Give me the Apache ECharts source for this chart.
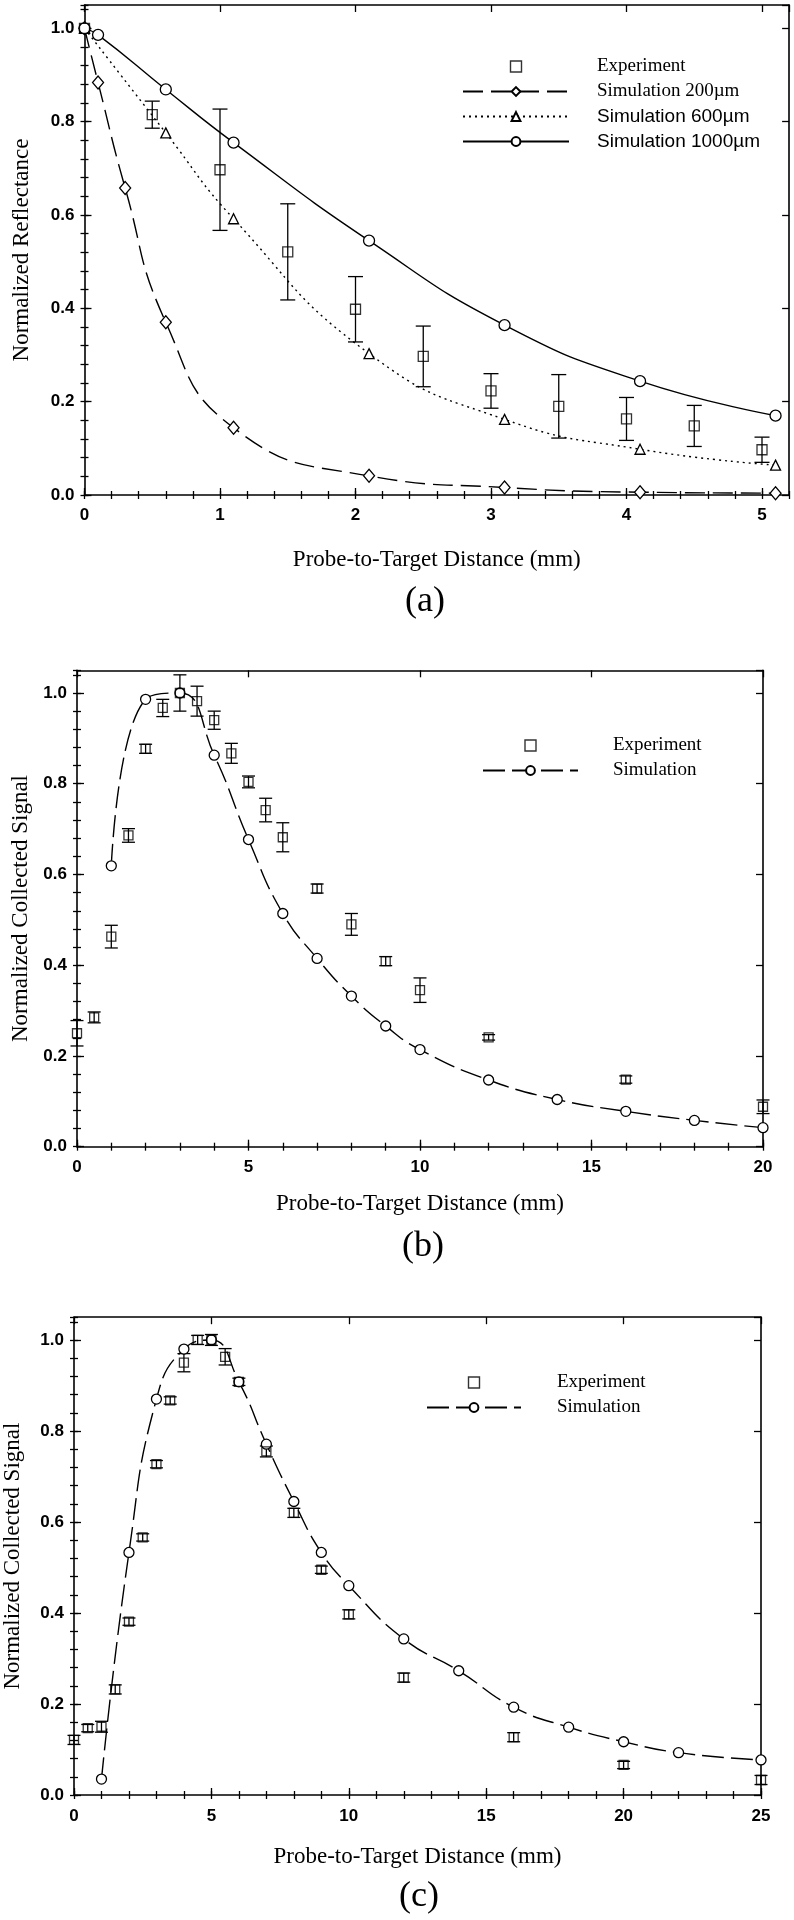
<!DOCTYPE html>
<html><head><meta charset="utf-8">
<script src="https://cdn.jsdelivr.net/npm/echarts@6/dist/echarts.min.js"></script>
<style>html,body{margin:0;padding:0;background:#fff}#c{width:794px;height:1920px}</style>
</head><body><div id="c"></div>
<script>
// ---------- Panel (a) data ----------
const aExpX = [0, 0.5, 1.0, 1.5, 2.0, 2.5, 3.0, 3.5, 4.0, 4.5, 5.0];
const aExpY = [1.0, 0.815, 0.697, 0.521, 0.398, 0.297, 0.223, 0.19, 0.163, 0.148, 0.097];
const aExpErr = [0, 0.029, 0.13, 0.103, 0.07, 0.065, 0.037, 0.068, 0.046, 0.044, 0.027];
const aSim200X = [0, 0.1, 0.3, 0.6, 1.1, 2.1, 3.1, 4.1, 5.1];
const aSim200Y = [1.0, 0.884, 0.658, 0.37, 0.144, 0.041, 0.016, 0.006, 0.004];
const aSim600X = [0, 0.6, 1.1, 2.1, 3.1, 4.1, 5.1];
const aSim600Y = [1.0, 0.776, 0.592, 0.303, 0.162, 0.098, 0.064];
const aSim1000X = [0, 0.1, 0.6, 1.1, 2.1, 3.1, 4.1, 5.1];
const aSim1000Y = [1.0, 0.986, 0.869, 0.755, 0.545, 0.364, 0.244, 0.17];

// ---------- Panel (b) data ----------
const bExpX = [0, 0.5, 1, 1.5, 2, 2.5, 3, 3.5, 4, 4.5, 5, 5.5, 6, 7, 8, 9, 10, 12, 16, 20];
const bExpY = [0.25, 0.285, 0.463, 0.686, 0.877, 0.967, 1.0, 0.982, 0.94, 0.867, 0.804, 0.742, 0.682, 0.569, 0.49, 0.409, 0.345, 0.241, 0.148, 0.088];
const bExpErr = [0.028, 0.012, 0.025, 0.015, 0.01, 0.019, 0.04, 0.033, 0.02, 0.022, 0.013, 0.026, 0.032, 0.01, 0.024, 0.01, 0.027, 0.006, 0.008, 0.015];
const bSimX = [1, 2, 3, 4, 5, 6, 7, 8, 9, 10, 12, 14, 16, 18, 20];
const bSimY = [0.619, 0.986, 1.0, 0.863, 0.677, 0.514, 0.415, 0.332, 0.266, 0.214, 0.147, 0.104, 0.078, 0.058, 0.042];

// ---------- Panel (c) data ----------
const cExpX = [0, 0.5, 1, 1.5, 2, 2.5, 3, 3.5, 4, 4.5, 5, 5.5, 6, 7, 8, 9, 10, 12, 16, 20, 25];
const cExpY = [0.121, 0.147, 0.15, 0.232, 0.381, 0.566, 0.727, 0.867, 0.95, 1.0, 1.0, 0.963, 0.908, 0.755, 0.62, 0.495, 0.397, 0.258, 0.127, 0.066, 0.033];
const cExpErr = [0.01, 0.008, 0.012, 0.01, 0.008, 0.008, 0.008, 0.008, 0.02, 0.01, 0.012, 0.018, 0.008, 0.012, 0.01, 0.008, 0.01, 0.01, 0.01, 0.008, 0.01];
const cSimX = [1, 2, 3, 4, 5, 6, 7, 8, 9, 10, 12, 14, 16, 18, 20, 22, 25];
const cSimY = [0.035, 0.533, 0.87, 0.98, 1.0, 0.908, 0.771, 0.645, 0.533, 0.46, 0.343, 0.273, 0.193, 0.149, 0.117, 0.093, 0.077];

// ---------- Text ----------
const xTitle = 'Probe-to-Target Distance (mm)';
const yTitleA = 'Normalized Reflectance';
const yTitleBC = 'Normalized Collected Signal';
const legendA = ['Experiment', 'Simulation 200µm', 'Simulation 600µm', 'Simulation 1000µm'];
const legendBC = ['Experiment', 'Simulation'];
const panelLabels = ['(a)', '(b)', '(c)'];

const SERIF = '"Liberation Serif", "Times New Roman", serif';
const SANS = '"Liberation Sans", Arial, sans-serif';
const SQUARE_ICON = 'path://M0,0L10,0L10,10L0,10Z';

const zip = (xs, ys) => xs.map((x, i) => [x, ys[i]]);
const errData = (xs, ys, es) => xs.map((x, i) => [x, ys[i] - es[i], ys[i] + es[i]]);

function errRender(capW) {
  return function (params, api) {
    const x = api.value(0), lo = api.value(1), hi = api.value(2);
    if (!(hi - lo > 0)) return null;
    const p1 = api.coord([x, hi]), p2 = api.coord([x, lo]);
    const st = {stroke: '#000', lineWidth: 1.3, fill: null};
    return {type: 'group', children: [
      {type: 'line', shape: {x1: p1[0], y1: p1[1], x2: p2[0], y2: p2[1]}, style: st},
      {type: 'line', shape: {x1: p1[0] - capW / 2, y1: p1[1], x2: p1[0] + capW / 2, y2: p1[1]}, style: st},
      {type: 'line', shape: {x1: p2[0] - capW / 2, y1: p2[1], x2: p2[0] + capW / 2, y2: p2[1]}, style: st}
    ]};
  };
}

const grids = [
  {left: 84.5, top: 5, width: 704.6, height: 490},
  {left: 77, top: 670.3, width: 686, height: 476.4},
  {left: 74, top: 1317.2, width: 687, height: 477.8}
];

function base(gi, max, interval) {
  return {type: 'value', gridIndex: gi, min: 0, max: max, interval: interval,
    splitLine: {show: false}, splitArea: {show: false}, minorTick: {show: false}, minorSplitLine: {show: false},
    axisPointer: {show: false}, silent: true};
}
const tick = len => ({show: true, inside: true, length: len, lineStyle: {color: '#000', width: 1.3}});
const aLine = {show: true, onZero: false, lineStyle: {color: '#000', width: 1.6}};
const lblStyle = {fontFamily: SANS, fontSize: 17, fontWeight: 'bold', color: '#000'};

function xAx(gi, max, interval, minor, nameGap, margin) {
  const onTick = Math.abs(max / interval - Math.round(max / interval)) < 1e-9;
  return [
    Object.assign(base(gi, max, interval), {position: 'bottom', name: xTitle, nameLocation: 'middle', nameGap: nameGap,
      nameTextStyle: {fontFamily: SERIF, fontSize: 23, color: '#000'},
      axisLine: aLine, axisTick: tick(7),
      axisLabel: Object.assign({show: true, margin: margin, showMinLabel: true, showMaxLabel: onTick,
        formatter: v => String(Math.round(v))}, lblStyle)}),
    Object.assign(base(gi, max, minor), {position: 'bottom', axisLine: {show: false}, axisTick: tick(4), axisLabel: {show: false}}),
    Object.assign(base(gi, max, interval), {position: 'top', axisLine: aLine, axisTick: tick(7), axisLabel: {show: false}}),
    Object.assign(base(gi, max, minor), {position: 'top', axisLine: {show: false}, axisTick: tick(4), axisLabel: {show: false}})
  ];
}
function yAx(gi, name, nameGap) {
  return [
    Object.assign(base(gi, 1.05, 0.2), {position: 'left', name: name, nameLocation: 'middle', nameGap: nameGap, nameRotate: 90,
      nameTextStyle: {fontFamily: SERIF, fontSize: 23, color: '#000'},
      axisLine: aLine, axisTick: tick(7),
      axisLabel: Object.assign({show: true, margin: 10, showMinLabel: true, showMaxLabel: false,
        formatter: v => v.toFixed(1)}, lblStyle)}),
    Object.assign(base(gi, 1.05, 0.04), {position: 'left', axisLine: {show: false}, axisTick: tick(4), axisLabel: {show: false}}),
    Object.assign(base(gi, 1.05, 0.2), {position: 'right', axisLine: aLine, axisTick: tick(7), axisLabel: {show: false}}),
    Object.assign(base(gi, 1.05, 0.04), {position: 'right', axisLine: {show: false}, axisTick: tick(4), axisLabel: {show: false}})
  ];
}

const sansNames = ['Simulation 600µm', 'Simulation 1000µm'];
function makeLegend(names, left, top, itemWidth, pad) {
  return {
    orient: 'vertical', left: left, top: top, padding: 0, itemWidth: itemWidth, itemHeight: 11, itemGap: 6,
    selectedMode: false, symbolKeepAspect: true,
    data: names.map(n => n === 'Experiment'
      ? {name: n, icon: SQUARE_ICON, itemStyle: {color: '#fff', borderColor: '#000', borderWidth: 1.4}}
      : {name: n}),
    formatter: n => (sansNames.indexOf(n) >= 0 ? '{n|' : '{s|') + n + '}',
    textStyle: {color: '#000', rich: {
      s: {fontFamily: SERIF, fontSize: 19, lineHeight: 20, color: '#000', padding: [0, 0, 0, pad]},
      n: {fontFamily: SANS, fontSize: 19, lineHeight: 20, color: '#000', padding: [0, 0, 0, pad]}
    }}
  };
}

const whiteMark = {color: '#fff', borderColor: '#000', borderWidth: 1.3};
const hollowSq = {color: 'rgba(255,255,255,0)', borderColor: '#000', borderWidth: 1.3};

function expSeries(gi, xs, ys, es, sq, cap) {
  return [
    {type: 'custom', xAxisIndex: gi * 4, yAxisIndex: gi * 4, renderItem: errRender(cap),
      data: errData(xs, ys, es), encode: {x: 0, y: [1, 2]}, z: 2, silent: true},
    {type: 'scatter', name: 'Experiment', xAxisIndex: gi * 4, yAxisIndex: gi * 4, symbol: 'rect', symbolSize: sq,
      itemStyle: hollowSq, data: zip(xs, ys), z: 4, silent: true}
  ];
}
function simSeries(gi, name, xs, ys, symbol, size, type) {
  return {type: 'line', name: name, xAxisIndex: gi * 4, yAxisIndex: gi * 4, data: zip(xs, ys),
    symbol: symbol, symbolSize: size, showSymbol: true, smooth: true,
    lineStyle: {color: '#000', width: 1.4, type: type}, itemStyle: whiteMark, z: 3, silent: true};
}

const option = {
  animation: false,
  backgroundColor: '#fff',
  grid: grids.map(g => Object.assign({outerBoundsMode: 'none', containLabel: false}, g)),
  xAxis: [].concat(xAx(0, 5.2, 1, 0.2, 53, 12), xAx(1, 20, 5, 1, 46, 12), xAx(2, 25, 5, 1, 50, 13)),
  yAxis: [].concat(yAx(0, yTitleA, 51), yAx(1, yTitleBC, 44), yAx(2, yTitleBC, 50)),
  legend: [
    makeLegend(legendA, 462, 57, 106, 23),
    makeLegend(legendBC, 482, 736, 95, 30),
    makeLegend(legendBC, 426, 1373, 94, 31)
  ],
  series: [].concat(
    expSeries(0, aExpX, aExpY, aExpErr, 10, 15),
    [simSeries(0, legendA[1], aSim200X, aSim200Y, 'diamond', [11, 13], [20, 8]),
     simSeries(0, legendA[2], aSim600X, aSim600Y, 'triangle', 10, [2, 4]),
     simSeries(0, legendA[3], aSim1000X, aSim1000Y, 'circle', 11, 'solid')],
    expSeries(1, bExpX, bExpY, bExpErr, 9, 13),
    [simSeries(1, 'Simulation', bSimX, bSimY, 'circle', 10, [22, 7])],
    expSeries(2, cExpX, cExpY, cExpErr, 9, 13),
    [simSeries(2, 'Simulation', cSimX, cSimY, 'circle', 10, [22, 7])]
  ),
  graphic: [
    {type: 'text', x: 425, y: 602, style: {text: panelLabels[0], fontFamily: SERIF, fontSize: 36, fill: '#000', align: 'center', verticalAlign: 'middle'}},
    {type: 'text', x: 423, y: 1247, style: {text: panelLabels[1], fontFamily: SERIF, fontSize: 36, fill: '#000', align: 'center', verticalAlign: 'middle'}},
    {type: 'text', x: 419, y: 1897, style: {text: panelLabels[2], fontFamily: SERIF, fontSize: 36, fill: '#000', align: 'center', verticalAlign: 'middle'}}
  ]
};

const chart = echarts.init(document.getElementById('c'), null, {renderer: 'canvas', width: 794, height: 1920});
chart.setOption(option);
</script>
</body></html>
